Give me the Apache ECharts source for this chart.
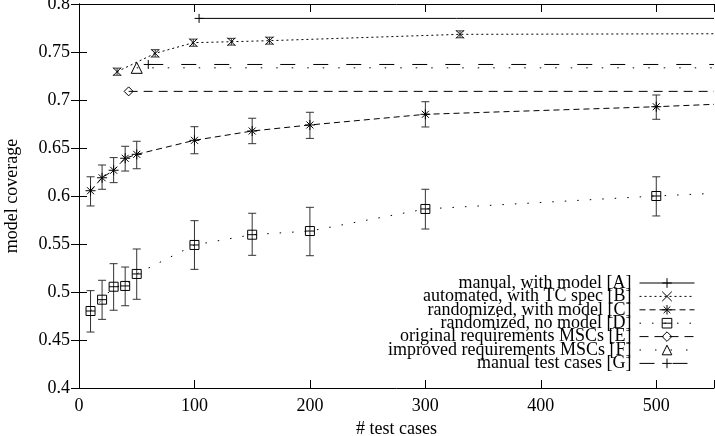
<!DOCTYPE html>
<html>
<head>
<meta charset="utf-8">
<script src="https://cdn.jsdelivr.net/npm/echarts@6/dist/echarts.min.js"></script>
<style>
  html, body { margin: 0; padding: 0; background: #fff; }
  #chart { width: 715px; height: 436px; }
</style>
</head>
<body>
<div id="chart"></div>
<script>
// Values
const seriesNames = [
  'manual, with model [A]',
  'automated, with TC spec [B]',
  'randomized, with model [C]',
  'randomized, no model [D]',
  'original requirements MSCs [E]',
  'improved requirements MSCs [F]',
  'manual test cases [G]'
]

const xMax = 550

// A: manual, with model
const manualModelX = [104]
const manualModelY = [0.785]
const manualModelTail = 0.785

// B: automated, with TC spec
const autoX = [33, 66, 99, 132, 165, 330]
const autoY = [0.7295, 0.7486, 0.7597, 0.7607, 0.7618, 0.7684]
const autoLo = [0.7258, 0.7448, 0.7560, 0.7572, 0.7582, 0.7648]
const autoHi = [0.7332, 0.7524, 0.7634, 0.7642, 0.7654, 0.7720]
const autoTail = 0.769

// C: randomized, with model
const randX = [10, 20, 30, 40, 50, 100, 150, 200, 300, 500]
const randModelY = [0.6055, 0.619, 0.6268, 0.6393, 0.6434, 0.658, 0.6677, 0.674, 0.6851, 0.693]
const randModelLo = [0.5896, 0.607, 0.6139, 0.626, 0.6284, 0.644, 0.6545, 0.660, 0.6719, 0.6799]
const randModelHi = [0.620, 0.6323, 0.640, 0.6518, 0.657, 0.6722, 0.681, 0.6872, 0.6982, 0.7052]
const randModelTail = 0.6955

// D: randomized, no model
const randNoModelY = [0.4802, 0.492, 0.5055, 0.5063, 0.5188, 0.549, 0.5597, 0.5635, 0.5865, 0.600]
const randNoModelLo = [0.4583, 0.4715, 0.481, 0.4857, 0.4924, 0.5236, 0.5382, 0.5378, 0.5656, 0.5792]
const randNoModelHi = [0.5014, 0.5122, 0.5295, 0.526, 0.5448, 0.5743, 0.582, 0.5882, 0.607, 0.620]
const randNoModelTail = 0.6028

// E, F, G: single reference points, flat to the right edge
const origMscX = [43]
const origMscY = [0.709]
const implMscX = [50]
const implMscY = [0.7335]
const manualCasesX = [60]
const manualCasesY = [0.737]

const yTicks = [0.4, 0.8, 0.05]
const xTicks = [0, xMax, 100]

const FONT = "'Liberation Serif', 'DejaVu Serif', serif"

const SYM = {
  plus: 'path://M0,5L10,5M5,0L5,10',
  cross: 'path://M0,0L10,10M10,0L0,10',
  star: 'path://M0,5L10,5M5,0L5,10M1.5,1.5L8.5,8.5M8.5,1.5L1.5,8.5',
  boxed: 'path://M0,0L10,0L10,10L0,10ZM0,5L10,5',
  diamond: 'path://M5,0L10,5L5,10L0,5Z',
  triangle: 'path://M5,0L10,9L0,9Z'
}

function pts(xs, ys, tail) {
  const d = xs.map((x, i) => [x, ys[i]])
  d.push({ value: [xMax, tail], symbol: 'none' })
  return d
}

function lineSeries(name, data, symbol, size, dash) {
  return {
    type: 'line',
    name,
    data,
    symbol,
    symbolSize: size,
    showAllSymbol: true,
    z: 3,
    itemStyle: { color: 'transparent', borderColor: '#000', borderWidth: 1 },
    lineStyle: { color: '#000', width: 1, type: dash },
    emphasis: { disabled: true }
  }
}

function errorSeries(xs, lo, hi) {
  return {
    type: 'custom',
    silent: true,
    z: 2,
    data: xs.map((x, i) => [x, lo[i], hi[i]]),
    renderItem(params, api) {
      const a = api.coord([api.value(0), api.value(1)])
      const b = api.coord([api.value(0), api.value(2)])
      const w = 4
      const st = { stroke: '#333', lineWidth: 1 }
      return {
        type: 'group',
        children: [
          { type: 'line', shape: { x1: a[0], y1: a[1], x2: b[0], y2: b[1] }, style: st },
          { type: 'line', shape: { x1: a[0] - w, y1: a[1], x2: a[0] + w, y2: a[1] }, style: st },
          { type: 'line', shape: { x1: b[0] - w, y1: b[1], x2: b[0] + w, y2: b[1] }, style: st }
        ]
      }
    }
  }
}

const series = [
  lineSeries(seriesNames[0], pts(manualModelX, manualModelY, manualModelTail), SYM.plus, 9, 'solid'),
  lineSeries(seriesNames[1], pts(autoX, autoY, autoTail), SYM.cross, 8, [2, 3]),
  lineSeries(seriesNames[2], pts(randX, randModelY, randModelTail), SYM.star, 10, [6, 4]),
  lineSeries(seriesNames[3], pts(randX, randNoModelY, randNoModelTail), SYM.boxed, 9, [1.5, 11]),
  lineSeries(seriesNames[4], pts(origMscX, origMscY, origMscY[0]), SYM.diamond, 9, [9, 6]),
  lineSeries(seriesNames[5], pts(implMscX, implMscY, implMscY[0]), SYM.triangle, 11, [1.5, 14]),
  lineSeries(seriesNames[6], pts(manualCasesX, manualCasesY, manualCasesY[0]), SYM.plus, 9, [15, 18]),
  errorSeries(autoX, autoLo, autoHi),
  errorSeries(randX, randModelLo, randModelHi),
  errorSeries(randX, randNoModelLo, randNoModelHi)
]

// one legend per row so the samples line up at the right
const legends = seriesNames.map((name, i) => ({
  data: [name],
  right: 20,
  top: 274 + i * 13.4,
  align: 'right',
  padding: 0,
  itemWidth: 55,
  itemHeight: 12,
  selectedMode: false,
  itemStyle: { color: 'transparent', borderColor: '#000', borderWidth: 1 },
  lineStyle: { color: '#000', width: 1 },
  textStyle: { fontFamily: FONT, fontSize: 18, color: '#000', padding: [0, 3, 0, 0] }
}))

const axisText = { fontFamily: FONT, fontSize: 18, color: '#000' }
const tick = { show: true, inside: true, length: 8, lineStyle: { color: '#000' } }
const line = { show: true, lineStyle: { color: '#000', width: 1 } }

const option = {
  animation: false,
  backgroundColor: '#fff',
  textStyle: { fontFamily: FONT },
  grid: { left: 79, right: 1, top: 4, bottom: 48, containLabel: false, outerBoundsMode: 'none' },
  legend: legends,
  xAxis: [
    {
      type: 'value', min: xTicks[0], max: xTicks[1], interval: xTicks[2],
      name: '# test cases', nameLocation: 'middle', nameGap: 26,
      nameTextStyle: axisText,
      axisLine: line, axisTick: tick, splitLine: { show: false },
      axisLabel: { ...axisText, margin: 9, formatter: v => (v > 500 ? '' : String(v)) }
    },
    {
      type: 'value', position: 'top', min: xTicks[0], max: xTicks[1], interval: xTicks[2],
      axisLine: line, axisTick: tick, splitLine: { show: false }, axisLabel: { show: false }
    }
  ],
  yAxis: [
    {
      type: 'value', min: yTicks[0], max: yTicks[1], interval: yTicks[2],
      name: 'model coverage', nameLocation: 'middle', nameGap: 58,
      nameTextStyle: axisText,
      axisLine: line, axisTick: tick, splitLine: { show: false },
      axisLabel: { ...axisText, margin: 9 }
    },
    {
      type: 'value', position: 'right', min: yTicks[0], max: yTicks[1], interval: yTicks[2],
      axisLine: line, axisTick: tick, splitLine: { show: false }, axisLabel: { show: false }
    }
  ],
  series
}

const chart = echarts.init(document.getElementById('chart'))
chart.setOption(option)
</script>
</body>
</html>
